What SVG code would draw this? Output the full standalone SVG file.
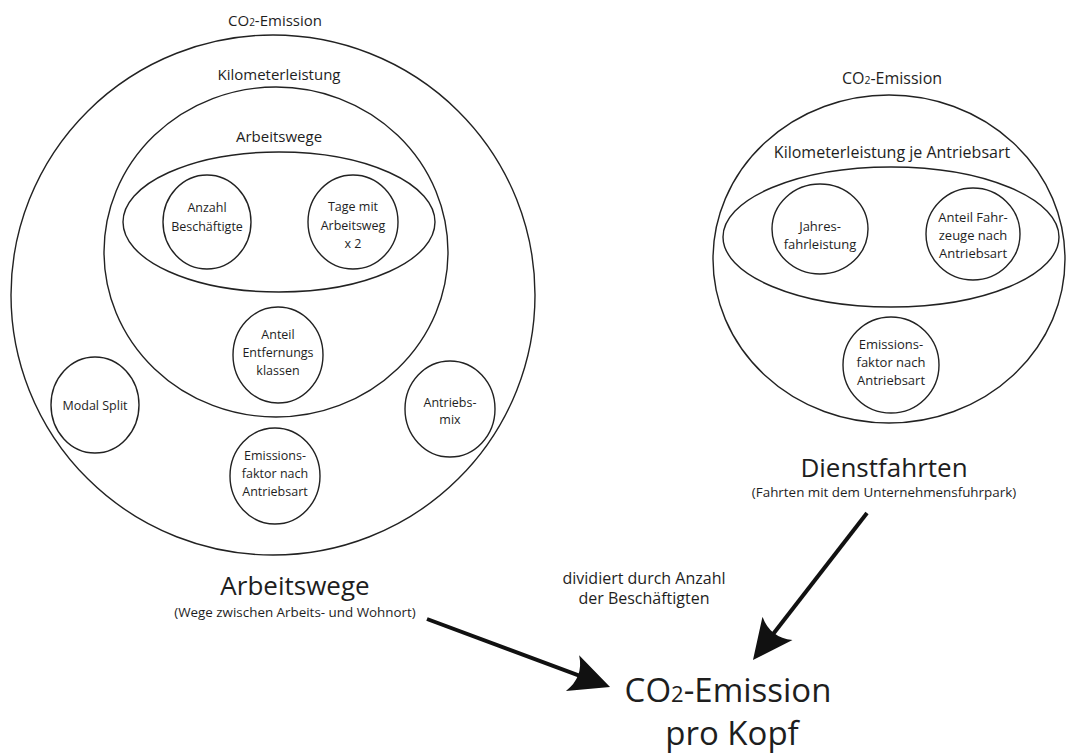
<svg xmlns="http://www.w3.org/2000/svg" width="1066" height="754" viewBox="0 0 1066 754">
<style>
  .c{fill:none;stroke:#222;stroke-width:1.4}
  text{font-family:"Open Sans","Liberation Sans",sans-serif;fill:#1e1e1e;text-anchor:middle}
  .s{font-size:12.5px}
  .sr{font-size:13px}
  .m{font-size:15px}
  .mr{font-size:16px}
  .h{font-size:26px}
  .sub{font-size:13.4px}
  .note{font-size:16px}
  .big{font-size:33px}
  .a{fill:none;stroke:#111;stroke-width:4}
</style>
<defs>
  <marker id="ah" markerUnits="userSpaceOnUse" markerWidth="42" markerHeight="42" refX="15" refY="20" orient="auto" viewBox="0 0 42 42">
    <path d="M40,20 L0,1 Q12,20 0,39 Z" fill="#111"/>
  </marker>
</defs>
<rect width="1066" height="754" fill="#fff"/>

<g id="left-diagram">
  <g id="l-outer">
    <ellipse class="c" cx="273" cy="295" rx="262" ry="260"/>
    <text class="m" x="275" y="26">CO<tspan font-size="10px">2</tspan>-Emission</text>
  </g>
  <g id="l-km">
    <ellipse class="c" cx="276" cy="252" rx="172" ry="165"/>
    <text class="m" x="279" y="80">Kilometerleistung</text>
  </g>
  <g id="l-arbeitswege">
    <ellipse class="c" cx="279" cy="222" rx="156" ry="70"/>
    <text class="m" x="279" y="142">Arbeitswege</text>
  </g>
  <g id="l-anzahl">
    <ellipse class="c" cx="207" cy="222" rx="44" ry="47"/>
    <text class="s" x="207" y="212">Anzahl</text>
    <text class="s" x="207" y="231">Beschäftigte</text>
  </g>
  <g id="l-tage">
    <ellipse class="c" cx="353" cy="222" rx="45" ry="47"/>
    <text class="s" x="353" y="211">Tage mit</text>
    <text class="s" x="353" y="230">Arbeitsweg</text>
    <text class="s" x="353" y="248">x 2</text>
  </g>
  <g id="l-anteil">
    <ellipse class="c" cx="278" cy="355" rx="45" ry="48"/>
    <text class="s" x="278" y="339">Anteil</text>
    <text class="s" x="278" y="357">Entfernungs</text>
    <text class="s" x="278" y="375">klassen</text>
  </g>
  <g id="l-modal">
    <ellipse class="c" cx="95" cy="405" rx="44" ry="48"/>
    <text class="s" x="95" y="410">Modal Split</text>
  </g>
  <g id="l-antriebsmix">
    <ellipse class="c" cx="450" cy="409" rx="45" ry="48"/>
    <text class="s" x="450" y="407">Antriebs-</text>
    <text class="s" x="450" y="424">mix</text>
  </g>
  <g id="l-emission">
    <ellipse class="c" cx="275" cy="476" rx="45" ry="48"/>
    <text class="s" x="275" y="460">Emissions-</text>
    <text class="s" x="275" y="478">faktor nach</text>
    <text class="s" x="275" y="496">Antriebsart</text>
  </g>
  <g id="l-title">
    <text class="h" x="295" y="595">Arbeitswege</text>
    <text class="sub" x="295" y="617">(Wege zwischen Arbeits- und Wohnort)</text>
  </g>
</g>

<g id="right-diagram">
  <g id="r-outer">
    <ellipse class="c" cx="889" cy="259" rx="176" ry="164"/>
    <text class="mr" x="892" y="84">CO<tspan font-size="10.5px">2</tspan>-Emission</text>
  </g>
  <g id="r-km">
    <ellipse class="c" cx="891" cy="237" rx="168" ry="70"/>
    <text class="mr" x="892" y="158">Kilometerleistung je Antriebsart</text>
  </g>
  <g id="r-jahres">
    <ellipse class="c" cx="820" cy="229" rx="48" ry="45"/>
    <text class="sr" x="820" y="231">Jahres-</text>
    <text class="sr" x="820" y="249">fahrleistung</text>
  </g>
  <g id="r-anteil">
    <ellipse class="c" cx="973" cy="234" rx="47" ry="46"/>
    <text class="sr" x="973" y="222">Anteil Fahr-</text>
    <text class="sr" x="973" y="240">zeuge nach</text>
    <text class="sr" x="973" y="258">Antriebsart</text>
  </g>
  <g id="r-emission">
    <ellipse class="c" cx="891" cy="365" rx="48" ry="48"/>
    <text class="sr" x="891" y="349">Emissions-</text>
    <text class="sr" x="891" y="367">faktor nach</text>
    <text class="sr" x="891" y="385">Antriebsart</text>
  </g>
  <g id="r-title">
    <text class="h" x="884" y="477">Dienstfahrten</text>
    <text class="sub" x="884" y="497">(Fahrten mit dem Unternehmensfuhrpark)</text>
  </g>
</g>

<g id="note">
  <text class="note" x="644" y="584">dividiert durch Anzahl</text>
  <text class="note" x="644" y="604">der Beschäftigten</text>
</g>

<g id="result">
  <text class="big" x="728" y="702">CO<tspan font-size="22px">2</tspan>-Emission</text>
  <text class="big" x="732" y="745">pro Kopf</text>
</g>

<g id="connectors">
  <path class="a" d="M427,619 L586.6,678.3" marker-end="url(#ah)"/>
  <path class="a" d="M867,513 L768.3,640.2" marker-end="url(#ah)"/>
</g>
</svg>
